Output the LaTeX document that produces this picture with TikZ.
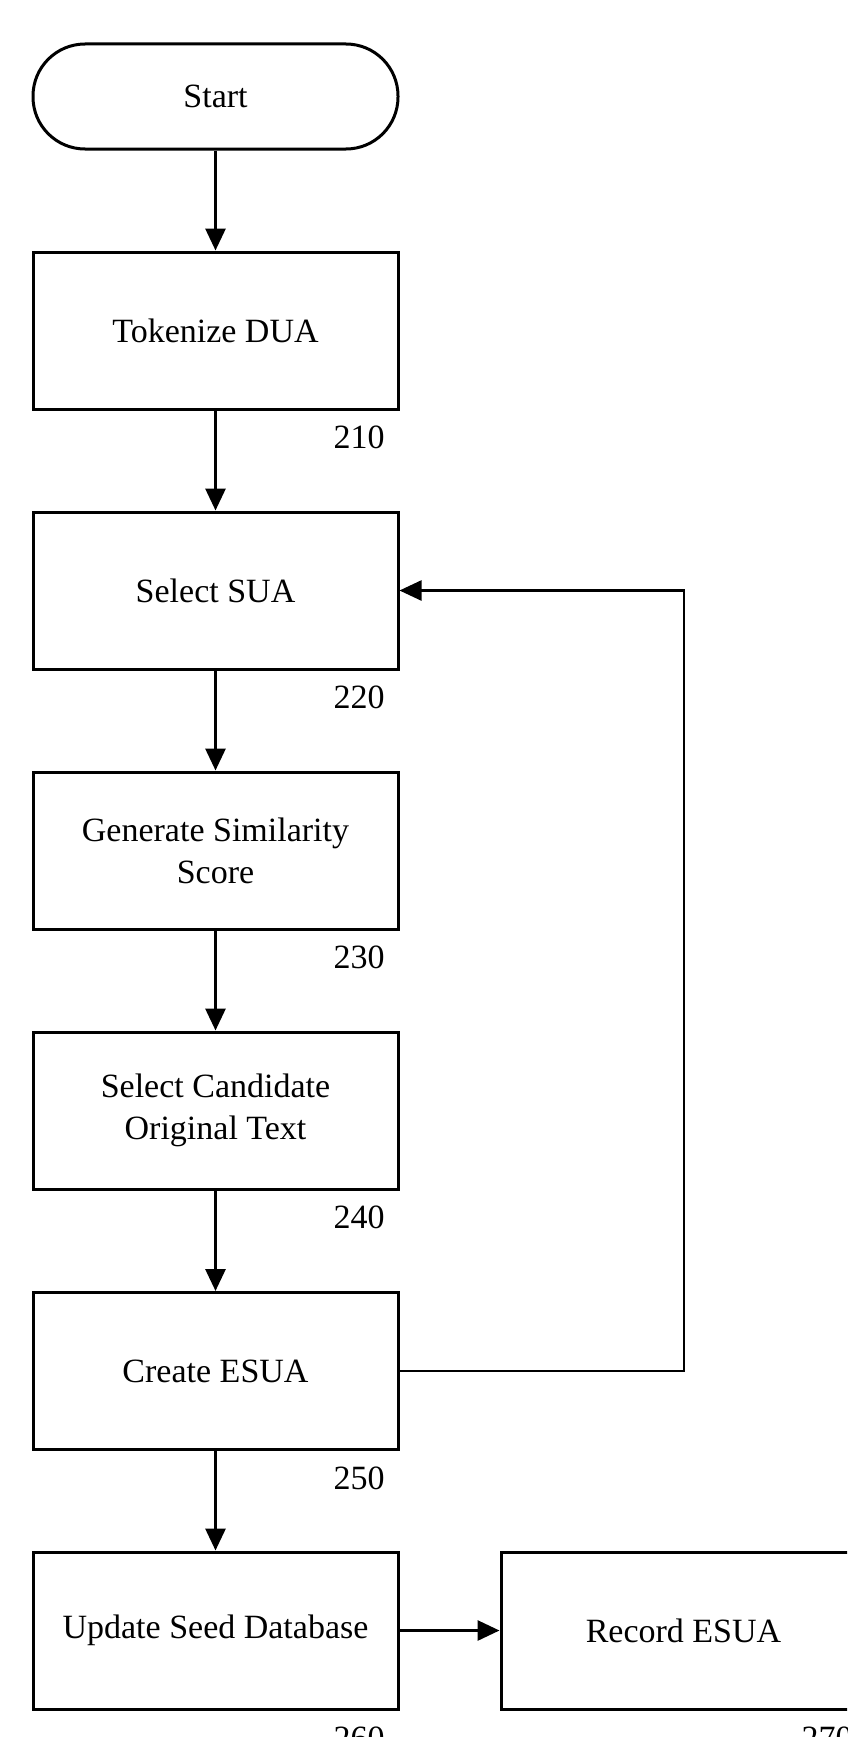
\documentclass[tikz,border=0pt]{standalone}
\usepackage{fontspec}
\setmainfont{Liberation Serif}
\usetikzlibrary{arrows.meta}
\begin{document}
\begin{tikzpicture}[x=1pt,y=-1pt,
  box/.style={draw, line width=3pt, minimum width=365pt, minimum height=157pt, inner sep=0pt, align=center, font=\fontsize{34}{42}\selectfont},
  term/.style={draw, line width=3pt, rounded corners=52pt, minimum width=365pt, minimum height=105pt, inner sep=0pt, font=\fontsize{34}{42}\selectfont},
  lab/.style={font=\fontsize{34}{40}\selectfont, inner sep=0pt},
  flow/.style={line width=3pt, -{Triangle[length=22pt,width=20pt]}}]
\useasboundingbox (0,0) rectangle (847,1737);
\clip (0,0) rectangle (847,1737);
\node[term] (start) at (215.5,96.5) {Start};
\node[box] (tok) at (215.5,330.5) {Tokenize DUA};
\node[box] (sel) at (215.5,590.5) {Select SUA};
\node[box] (gen) at (215.5,850.5) {Generate Similarity\\Score};
\node[box] (cand) at (215.5,1110.5) {Select Candidate\\Original Text};
\node[box] (create) at (215.5,1371) {Create ESUA};
\node[box] (upd) at (215.5,1630.5) {Update Seed Database};
\node[box] (rec) at (683.5,1630.5) {Record ESUA};
\node[lab] (l210) at (359,437) {210};
\node[lab] (l220) at (359,697) {220};
\node[lab] (l230) at (359,957) {230};
\node[lab] (l240) at (359,1217) {240};
\node[lab] (l250) at (359,1478) {250};
\node[lab] (l260) at (359,1738) {260};
\node[lab] (l270) at (827,1738) {270};
\draw[flow] (start) -- (tok);
\draw[flow] (tok) -- (sel);
\draw[flow] (sel) -- (gen);
\draw[flow] (gen) -- (cand);
\draw[flow] (cand) -- (create);
\draw[flow] (create) -- (upd);
\draw[flow] (upd) -- (rec);
\coordinate (fb) at (684,1371);
\draw[flow, line width=2.5pt] (create.east) -- (fb) |- (sel.east);
\end{tikzpicture}
\end{document}
